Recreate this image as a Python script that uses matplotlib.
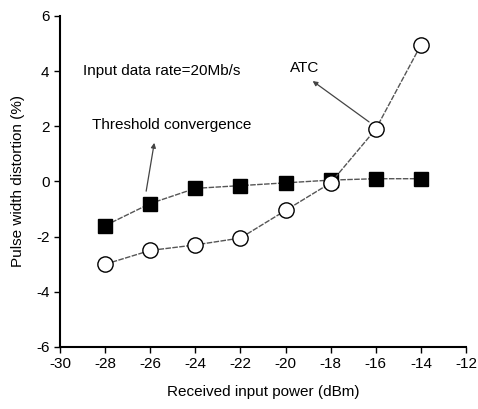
import numpy as np
import matplotlib.pyplot as plt

plt.rcParams["font.family"] = ["Liberation Sans", "DejaVu Sans"]
plt.rcParams["axes.unicode_minus"] = False

power = [-28, -26, -24, -22, -20, -18, -16, -14]
threshold = [-1.6, -0.8, -0.25, -0.15, -0.05, 0.05, 0.1, 0.1]
atc = [-3.0, -2.5, -2.3, -2.05, -1.05, -0.05, 1.9, 4.95]

fig = plt.figure(figsize=(4.78, 4.09), dpi=100)
ax = fig.add_axes([0.1255, 0.1516, 0.8495, 0.8094])

ax.plot(power, threshold, color="#555555", lw=1.0, ls=(0, (4, 1)), marker="s",
        ms=10, mfc="black", mec="black", zorder=3)
ax.plot(power, atc, color="#555555", lw=1.0, ls=(0, (4, 1)), marker="o",
        ms=11, mfc="white", mec="black", mew=1.0, zorder=3)

ax.set_xlim(-30, -12)
ax.set_ylim(-6, 6)
ax.set_xticks(np.arange(-30, -11, 2))
ax.set_yticks(np.arange(-6, 7, 2))
ax.spines["top"].set_visible(False)
ax.spines["right"].set_visible(False)
ax.spines["left"].set_linewidth(1.5)
ax.spines["bottom"].set_linewidth(1.5)
ax.tick_params(direction="out", length=4, width=1, labelsize=11)

ax.set_xlabel("Received input power (dBm)", fontsize=11, labelpad=10)
ax.set_ylabel("Pulse width distortion (%)", fontsize=11, labelpad=8)

ax.text(-29.0, 4.0, "Input data rate=20Mb/s", fontsize=11, va="center")
ax.text(-28.6, 2.05, "Threshold convergence", fontsize=11, va="center")
ax.text(-19.8, 4.1, "ATC", fontsize=11, va="center")

ax.annotate("", xy=(-18.9, 3.7), xytext=(-16.2, 2.1),
            arrowprops=dict(arrowstyle="-|>", color="#444444", lw=0.9,
                            mutation_scale=7))
ax.annotate("", xy=(-25.8, 1.5), xytext=(-26.2, -0.45),
            arrowprops=dict(arrowstyle="-|>", color="#444444", lw=0.9,
                            mutation_scale=7))

fig.savefig("out.png", dpi=100)
